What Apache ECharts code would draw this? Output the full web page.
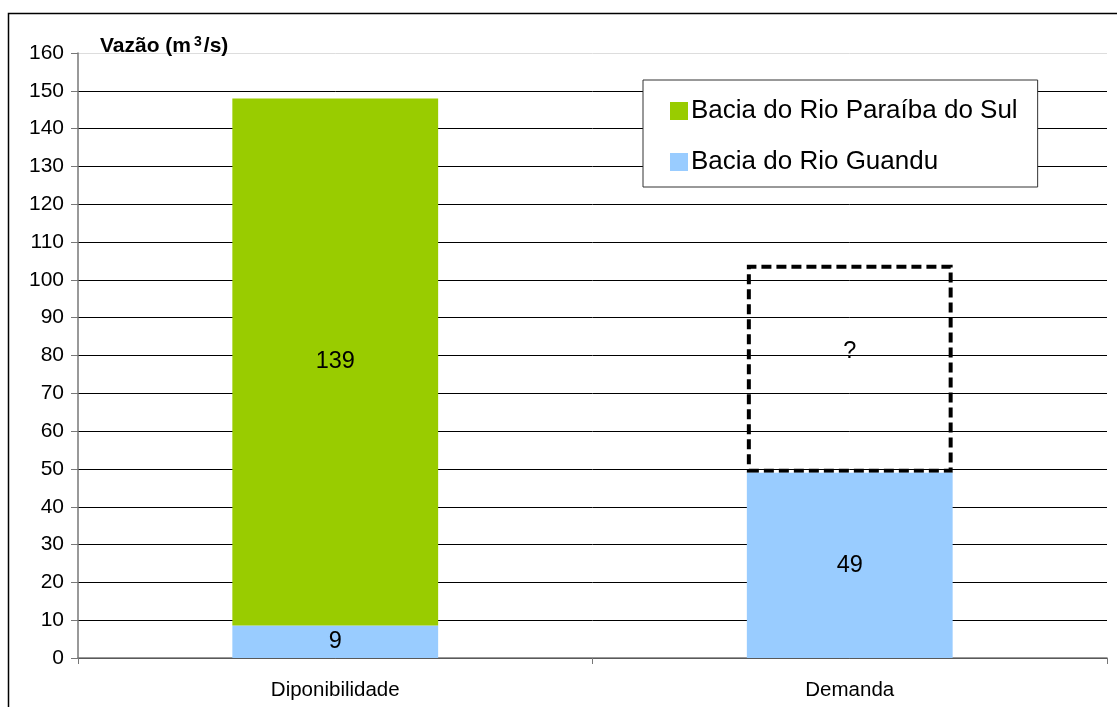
<!DOCTYPE html>
<html>
<head>
<meta charset="utf-8">
<script src="https://cdn.jsdelivr.net/npm/echarts@6/dist/echarts.min.js"></script>
<style>
  html, body { margin: 0; padding: 0; background: #fff; }
  #chart { width: 1117px; height: 707px; }
</style>
</head>
<body>
<div id="chart"></div>
<script>
const categories = ['Diponibilidade', 'Demanda']
const guandu = [8.6, 49]          // Bacia do Rio Guandu
const paraiba = [139.4, null]     // Bacia do Rio Paraíba do Sul
const unknown = [null, 55]        // demanda ainda não definida
const unknownLabel = '?'
const yTicks = { min: 0, max: 160, interval: 10 }

const font = '"Liberation Sans", Arial, sans-serif'

// top split line (160) is drawn light, the rest black
const splitColors = []
for (let i = 0; i <= 16; i++) splitColors.push(i === 16 ? '#dddddd' : '#000000')

const chart = echarts.init(document.getElementById('chart'))

chart.setOption({
  animation: false,
  textStyle: { fontFamily: font },
  title: {
    text: 'Vazão (m{sup|3}/s)',
    left: 95,
    top: 30,
    textStyle: {
      fontSize: 21,
      fontWeight: 'bold',
      color: '#000',
      fontFamily: font,
      rich: {
        sup: { fontSize: 14, fontWeight: 'bold', color: '#000', verticalAlign: 'top', padding: [0, 2, 8, 3] }
      }
    }
  },
  graphic: [
    {
      type: 'rect',
      shape: { x: 8.5, y: 13.5, width: 1120, height: 710 },
      style: { fill: 'none', stroke: '#000', lineWidth: 1.5 },
      silent: true
    }
  ],
  legend: {
    data: ['Bacia do Rio Paraíba do Sul', 'Bacia do Rio Guandu'],
    orient: 'vertical',
    left: 643,
    top: 80,
    padding: [18, 20, 12, 27],
    itemGap: 25,
    itemWidth: 18,
    itemHeight: 18,
    icon: 'rect',
    backgroundColor: '#fff',
    borderColor: '#333',
    borderWidth: 1,
    textStyle: { fontSize: 26, lineHeight: 24, color: '#000', fontFamily: font, padding: [0, 0, 0, -2] }
  },
  grid: {
    left: 78,
    right: 10,
    top: 53,
    bottom: 49
  },
  xAxis: {
    type: 'category',
    data: categories,
    axisLine: { lineStyle: { color: '#777', width: 1.5 } },
    axisTick: { show: true, length: 6, lineStyle: { color: '#777' } },
    axisLabel: { color: '#000', fontSize: 20.5, margin: 22 }
  },
  yAxis: {
    type: 'value',
    min: yTicks.min,
    max: yTicks.max,
    interval: yTicks.interval,
    axisLine: { show: true, lineStyle: { color: '#777', width: 1.5 } },
    axisTick: { show: true, length: 7, lineStyle: { color: '#777' } },
    axisLabel: { color: '#000', fontSize: 21, margin: 14 },
    splitLine: { lineStyle: { color: splitColors, width: 1 } }
  },
  series: [
    {
      name: 'Bacia do Rio Guandu',
      type: 'bar',
      stack: 'total',
      barWidth: '40%',
      data: guandu,
      itemStyle: { color: '#99ccff' },
      label: {
        show: true,
        position: 'inside',
        color: '#000',
        fontSize: 23.5,
        formatter: p => Math.round(p.value)
      },
      z: 3
    },
    {
      name: 'Bacia do Rio Paraíba do Sul',
      type: 'bar',
      stack: 'total',
      data: paraiba,
      itemStyle: { color: '#99cc00' },
      label: {
        show: true,
        position: 'inside',
        color: '#000',
        fontSize: 23.5,
        formatter: p => Math.round(p.value)
      },
      z: 3
    },
    {
      name: 'Indefinida',
      type: 'bar',
      stack: 'total',
      data: unknown,
      itemStyle: {
        color: 'rgba(255,255,255,0)',
        borderColor: '#000',
        borderWidth: 4,
        borderType: [10, 5]
      },
      label: {
        show: true,
        position: 'inside',
        offset: [0, -17],
        color: '#000',
        fontSize: 23.5,
        formatter: () => unknownLabel
      },
      z: 2
    }
  ]
})
</script>
</body>
</html>
